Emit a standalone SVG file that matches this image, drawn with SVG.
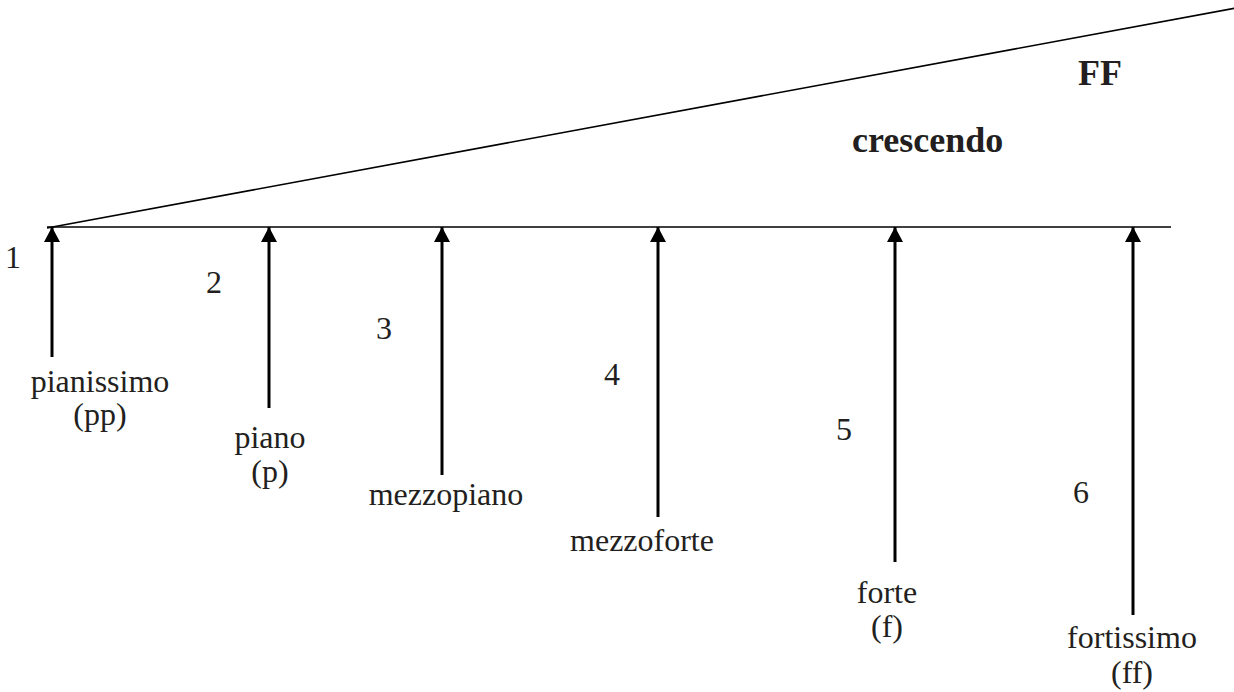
<svg xmlns="http://www.w3.org/2000/svg" width="1234" height="692" viewBox="0 0 1234 692">
<defs>
<marker id="ah" markerUnits="userSpaceOnUse" markerWidth="16" markerHeight="16" refX="15" refY="8" orient="auto">
<path d="M0,0 L15,8 L0,16 Z" fill="#000"/>
</marker>
<style>
.t{font-family:"Liberation Serif","Times New Roman",serif;font-size:32px;fill:#231f20;text-anchor:middle}
.b{font-family:"Liberation Serif","Times New Roman",serif;font-size:36px;font-weight:bold;fill:#231f20}
.ln{stroke:#000;stroke-width:1.6;fill:none}
.ar{stroke:#000;stroke-width:3;fill:none;marker-end:url(#ah)}
</style>
</defs>
<rect width="1234" height="692" fill="#fff"/>
<g id="connectors">
<line class="ln" x1="47" y1="227" x2="1171" y2="227"/>
<line class="ln" x1="47" y1="228" x2="1236" y2="8"/>
<line class="ar" x1="52" y1="357" x2="52" y2="227"/>
<line class="ar" x1="269" y1="408" x2="269" y2="227"/>
<line class="ar" x1="442" y1="475" x2="442" y2="227"/>
<line class="ar" x1="658" y1="517" x2="658" y2="227"/>
<line class="ar" x1="895" y1="562" x2="895" y2="227"/>
<line class="ar" x1="1133" y1="615" x2="1133" y2="227"/>
</g>
<g id="title">
<text class="b" x="1078" y="85">FF</text>
<text class="b" x="852" y="152">crescendo</text>
</g>
<g id="n1"><text class="t" x="13" y="268">1</text><text class="t" x="100" y="392">pianissimo</text><text class="t" x="100" y="425">(pp)</text></g>
<g id="n2"><text class="t" x="214" y="293">2</text><text class="t" x="270" y="448">piano</text><text class="t" x="270" y="482">(p)</text></g>
<g id="n3"><text class="t" x="384" y="339">3</text><text class="t" x="446" y="505">mezzopiano</text></g>
<g id="n4"><text class="t" x="612" y="385">4</text><text class="t" x="642" y="551">mezzoforte</text></g>
<g id="n5"><text class="t" x="844" y="440">5</text><text class="t" x="887" y="603">forte</text><text class="t" x="887" y="637">(f)</text></g>
<g id="n6"><text class="t" x="1081" y="503">6</text><text class="t" x="1132" y="648">fortissimo</text><text class="t" x="1132" y="683">(ff)</text></g>
</svg>
